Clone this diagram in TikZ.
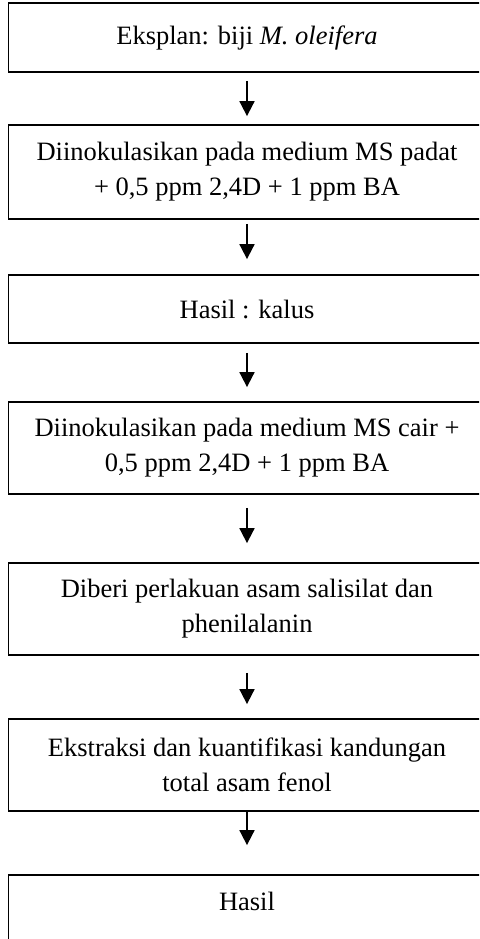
\documentclass[tikz,border=0pt]{standalone}
\usepackage{fontspec}
\setmainfont{Liberation Serif}
\usetikzlibrary{arrows.meta}

\begin{document}
\begin{tikzpicture}[
	x=1pt, y=-1pt,
	every node/.style={font=\fontsize{26.5}{35}\selectfont},
	box/.style={draw, line width=1.8pt, rectangle, inner sep=0pt, minimum width=477pt, align=center},
	arrow/.style={-{Triangle[width=15pt, length=15pt]}, line width=1.8pt}
	]
	
	\useasboundingbox (0,0) rectangle (479,939);
	\clip (0,0) rectangle (479,939);
	
	% === STEPS ===
	\node[box, minimum height=69pt] (eksplan) at (247, 37.5) {Eksplan: biji \textit{M. oleifera}};
	\node[box, minimum height=94pt] (padat) at (247, 172) {Diinokulasikan pada medium MS padat\\+ 0,5 ppm 2,4D + 1 ppm BA};
	\node[box, minimum height=68pt] (kalus) at (247, 309) {Hasil : kalus};
	\node[box, minimum height=92pt] (cair) at (247, 448) {Diinokulasikan pada medium MS cair +\\0,5 ppm 2,4D + 1 ppm BA};
	\node[box, minimum height=92pt] (perlakuan) at (247, 609) {Diberi perlakuan asam salisilat dan\\phenilalanin};
	\node[box, minimum height=92pt] (ekstraksi) at (247, 765) {Ekstraksi dan kuantifikasi kandungan\\total asam fenol};
	\node[box, minimum height=92pt, text depth=40pt] (hasil) at (247, 921) {Hasil};
	
	% === ARROWS ===
	\foreach \a/\b/\s/\e in {eksplan/padat/8/8, padat/kalus/4/15, kalus/cair/9/14,
		cair/perlakuan/13/19, perlakuan/ekstraksi/17/14, ekstraksi/hasil/0/29} {
		\draw[arrow, shorten <=\s pt, shorten >=\e pt] (\a) -- (\b);
	}
	
\end{tikzpicture}
\end{document}
